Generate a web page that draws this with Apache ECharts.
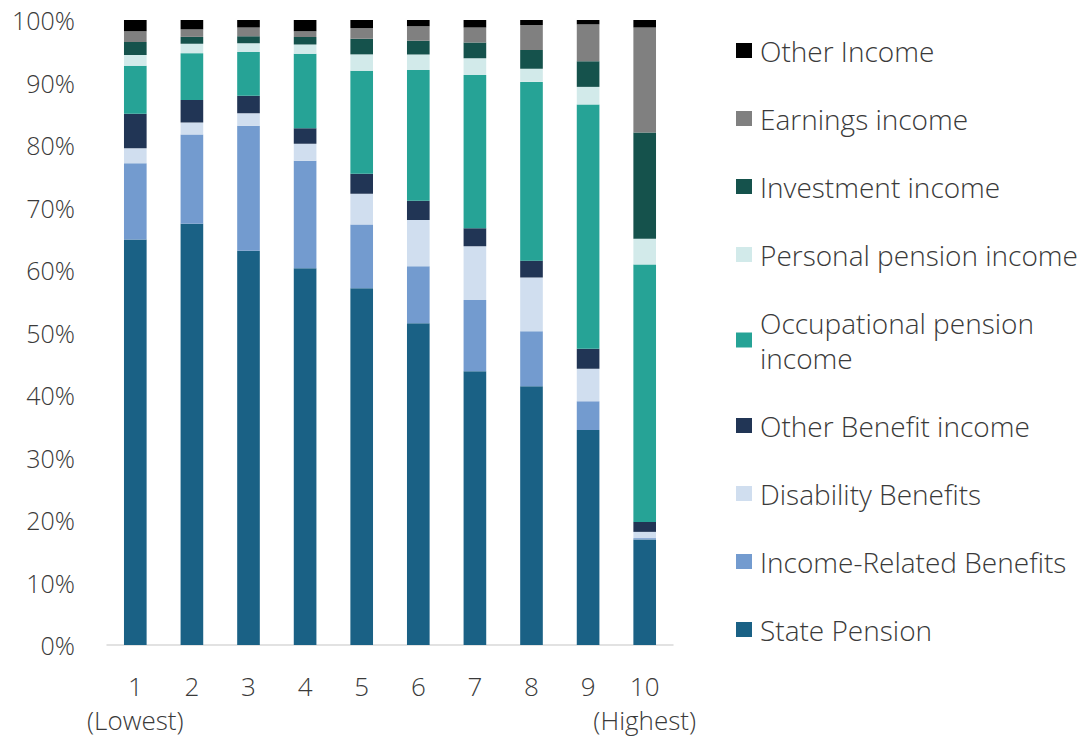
<!DOCTYPE html>
<html>
<head>
<meta charset="utf-8">
<script src="https://cdn.jsdelivr.net/npm/echarts@6/dist/echarts.min.js"></script>
<style>
  html, body { margin: 0; padding: 0; background: #fff; }
  #chart { width: 1086px; height: 737px; }
</style>
</head>
<body>
<div id="chart"></div>
<script>
// deciles
const deciles = ['1\n(Lowest)', '2', '3', '4', '5', '6', '7', '8', '9', '10\n(Highest)'];

// shares of income, % (bottom of stack first)
const statePension     = [64.9, 67.4, 63.1, 60.3, 57.1, 51.5, 43.8, 41.4, 34.4, 16.9];
const incomeRelated    = [12.2, 14.3, 20.0, 17.2, 10.2,  9.1, 11.4,  8.8,  4.6,  0.2];
const disability       = [ 2.4,  1.9,  2.0,  2.7,  4.9,  7.4,  8.6,  8.6,  5.2,  1.0];
const otherBenefit     = [ 5.5,  3.6,  2.8,  2.5,  3.2,  3.1,  2.9,  2.7,  3.2,  1.6];
const occupational     = [ 7.7,  7.5,  7.0, 11.9, 16.5, 20.9, 24.5, 28.6, 39.1, 41.2];
const personalPension  = [ 1.7,  1.5,  1.4,  1.5,  2.6,  2.5,  2.7,  2.1,  2.8,  4.1];
const investment       = [ 2.1,  1.1,  1.1,  1.2,  2.5,  2.2,  2.5,  3.0,  4.1, 17.0];
const earnings         = [ 1.7,  1.2,  1.4,  0.9,  1.7,  2.3,  2.4,  4.0,  5.9, 16.8];
const otherIncome      = [ 1.8,  1.5,  1.2,  1.8,  1.3,  1.0,  1.2,  0.8,  0.7,  1.2];

const yTicks = [0, 10, 20, 30, 40, 50, 60, 70, 80, 90, 100];

const seriesDefs = [
  ['State Pension', statePension, '#1a6185'],
  ['Income-Related Benefits', incomeRelated, '#739bcf'],
  ['Disability Benefits', disability, '#d0deef'],
  ['Other Benefit income', otherBenefit, '#213555'],
  ['Occupational pension\nincome', occupational, '#26a396'],
  ['Personal pension income', personalPension, '#d2eaea'],
  ['Investment income', investment, '#15524c'],
  ['Earnings income', earnings, '#808080'],
  ['Other Income', otherIncome, '#000000']
];

const FONT = 'Open Sans';
const TXT = '#3a3a3a';

let chart = echarts.init(document.getElementById('chart'), null, { renderer: 'svg' });

let option = {
  backgroundColor: '#fff',
  textStyle: { fontFamily: FONT },
  grid: { left: 107, right: 413, top: 20, bottom: 90 },
  legend: {
    orient: 'vertical',
    left: 736,
    top: 33,
    padding: 0,
    itemWidth: 16,
    itemHeight: 15,
    itemGap: 33,
    icon: 'rect',
    data: seriesDefs.map(s => s[0]).reverse(),
    textStyle: { fontFamily: FONT, fontWeight: 300, fontSize: 28, color: TXT, lineHeight: 35, padding: [0, 0, 0, 3] }
  },
  xAxis: {
    type: 'category',
    data: deciles,
    axisLine: { lineStyle: { color: '#d9d9d9', width: 1.5 } },
    axisTick: { show: false },
    axisLabel: { interval: 0, fontFamily: FONT, fontWeight: 300, fontSize: 26, color: TXT, lineHeight: 34, margin: 24 }
  },
  yAxis: {
    type: 'value',
    min: yTicks[0],
    max: yTicks[yTicks.length - 1],
    interval: 10,
    splitLine: { show: false },
    axisLine: { show: false },
    axisTick: { show: false },
    axisLabel: { fontFamily: FONT, fontWeight: 300, fontSize: 25, color: TXT, margin: 32, formatter: '{value}%' }
  },
  series: seriesDefs.map(([name, values, color]) => ({
    name: name,
    type: 'bar',
    stack: 'total',
    barWidth: '40%',
    data: values,
    itemStyle: { color: color },
    emphasis: { disabled: true }
  }))
};

chart.setOption(option);
</script>
</body>
</html>
